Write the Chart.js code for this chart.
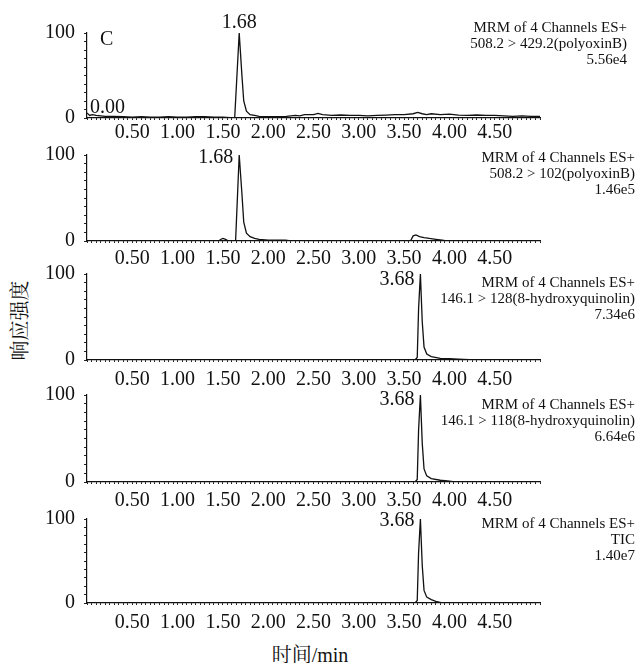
<!DOCTYPE html>
<html>
<head>
<meta charset="utf-8">
<script src="https://cdn.jsdelivr.net/npm/chart.js"></script>
<style>
  body { margin: 0; width: 638px; height: 663px; position: relative; background: #fff; overflow: hidden;
         font-family: 'Liberation Serif', 'Times New Roman', serif; color: #111; }
  canvas { position: absolute; left: 0; }
  .info { position: absolute; text-align: right; font-size: 15px; line-height: 16px; white-space: nowrap; }
  #xTitle { position: absolute; left: 0; width: 620px; top: 639px; text-align: center; font-size: 20px;
            font-family: 'Liberation Serif', 'Noto Serif CJK SC', 'Noto Sans CJK SC', serif; }
  #yTitle { position: absolute; left: -24px; top: 306px; width: 84px; text-align: center; font-size: 20px;
            transform: rotate(-90deg); font-family: 'Noto Serif CJK SC', 'Noto Sans CJK SC', serif; }
</style>
</head>
<body>
<div id="xTitle">时间/min</div>
<div id="yTitle">响应强度</div>

<script>
// ==================== Data ====================
// 508.2 > 429.2 (polyoxinB)
const time1 = [0, 0.03, 0.06, 0.1, 0.15, 0.2, 0.3, 0.4, 0.5, 0.6, 0.7, 0.8, 0.9, 1.0, 1.1, 1.2, 1.3, 1.4, 1.5, 1.58,
               1.63, 1.66, 1.68, 1.71, 1.73, 1.76, 1.8, 1.85, 1.9, 2.0, 2.1, 2.2, 2.3, 2.35, 2.4, 2.5, 2.55, 2.6,
               2.7, 2.8, 2.9, 3.0, 3.1, 3.2, 3.3, 3.4, 3.5, 3.6, 3.65, 3.7, 3.75, 3.8, 3.9, 4.0, 4.1, 4.2, 4.3,
               4.4, 4.5, 4.6, 4.7, 4.8, 4.9, 5.0];
const resp1 = [6, 3, 4, 3, 2.5, 2, 2, 1.5, 1, 1.5, 1, 1, 1.5, 1, 1, 1.5, 1.5, 1, 1, 0.5,
               0, 60, 100, 50, 20, 8, 4, 3, 2, 1.5, 1.5, 2, 3, 2.5, 4, 4, 5.5, 4,
               3, 3.5, 3, 3, 2.5, 3, 3.5, 4, 4, 5, 6.5, 5, 4, 5, 4, 4.5, 3.5, 3, 3.5,
               3, 3, 2.5, 2, 2.5, 2, 2];

// 508.2 > 102 (polyoxinB)
const time2 = [0, 1.45, 1.48, 1.5, 1.53, 1.56, 1.64, 1.68, 1.71, 1.73, 1.76, 1.8, 1.85, 1.9, 2.0, 2.19, 2.25,
               3.57, 3.6, 3.63, 3.67, 3.72, 3.78, 3.85, 3.92, 3.97, 5.0];
const resp2 = [0, 0, 2, 3, 2, 0, 0, 100, 55, 22, 9, 5, 3, 2, 1, 1, 0,
               0, 6, 7, 5, 4, 3, 2, 1, 0, 0];

// 146.1 > 128 (8-hydroxyquinolin)
const time3 = [0, 3.62, 3.645, 3.66, 3.68, 3.7, 3.72, 3.75, 3.8, 3.9, 4.0, 4.1, 4.22, 4.28, 5.0];
const resp3 = [0, 0, 3, 60, 100, 45, 15, 7, 4, 2, 1.5, 1, 0.5, 0, 0];

// 146.1 > 118 (8-hydroxyquinolin)
const time4 = [0, 3.62, 3.645, 3.66, 3.68, 3.7, 3.72, 3.75, 3.8, 3.9, 4.0, 4.06, 5.0];
const resp4 = [0, 0, 3, 60, 100, 45, 15, 7, 4, 2, 1, 0, 0];

// TIC
const time5 = [0, 3.62, 3.645, 3.66, 3.68, 3.7, 3.72, 3.75, 3.8, 3.85, 3.92, 5.0];
const resp5 = [0, 0, 3, 60, 100, 45, 15, 7, 4, 2, 0, 0];

const peakTimes = [1.68, 1.68, 3.68, 3.68, 3.68];
const xTickLabels = ['0.50', '1.00', '1.50', '2.00', '2.50', '3.00', '3.50', '4.00', '4.50'];
const infoLines = [
  ['MRM of 4 Channels ES+', '508.2 > 429.2(polyoxinB)', '5.56e4'],
  ['MRM of 4 Channels ES+', '508.2 > 102(polyoxinB)', '1.46e5'],
  ['MRM of 4 Channels ES+', '146.1 > 128(8-hydroxyquinolin)', '7.34e6'],
  ['MRM of 4 Channels ES+', '146.1 > 118(8-hydroxyquinolin)', '6.64e6'],
  ['MRM of 4 Channels ES+', 'TIC', '1.40e7']
];
const series = [[time1, resp1], [time2, resp2], [time3, resp3], [time4, resp4], [time5, resp5]];

// ==================== Layout ====================
const panelTop = [33, 155, 274, 395, 519];     // y of the 100 line
const panelBase = [118, 241, 360, 482, 603];   // y of the 0 line
const xLabelPad = [1, 4, 6, 5, 6];
const peakLabelDy = [-5, 8, 11, 10, 7];
const infoTop = [19, 149, 274, 396, 515];
const infoRight = [11, 3, 3, 3, 3];
const PAD_TOP = 30, X_AXIS_H = 45, AXIS_LEFT = 87, AXIS_RIGHT = 540;
const FONT = "'Liberation Serif', 'Times New Roman', serif";

// ==================== Panels ====================
function peakLabelPlugin(i) {
  return {
    id: 'peakLabels' + i,
    afterDatasetsDraw(chart) {
      const ctx = chart.ctx;
      const xs = chart.scales.x;
      const top = chart.chartArea.top, bottom = chart.chartArea.bottom;
      const px = xs.getPixelForValue(peakTimes[i]);
      ctx.save();
      ctx.fillStyle = '#111';
      ctx.font = '20px ' + FONT;
      ctx.textBaseline = 'alphabetic';
      if (i === 0) {
        ctx.textAlign = 'center';
        ctx.fillText(peakTimes[i].toFixed(2), px, top + peakLabelDy[i]);
        ctx.textAlign = 'left';
        ctx.fillText((0).toFixed(2), xs.getPixelForValue(0) + 3, bottom - 5);
        ctx.fillText('C', xs.getPixelForValue(0) + 13, top + 12);
      } else {
        ctx.textAlign = 'right';
        ctx.fillText(peakTimes[i].toFixed(2), px - 6, top + peakLabelDy[i]);
      }
      ctx.restore();
    }
  };
}

series.forEach(([times, resp], i) => {
  const h = panelBase[i] - panelTop[i] + PAD_TOP + X_AXIS_H;
  const canvas = document.createElement('canvas');
  canvas.width = 638;
  canvas.height = h;
  canvas.style.top = (panelTop[i] - PAD_TOP) + 'px';
  document.body.appendChild(canvas);

  new Chart(canvas.getContext('2d'), {
    type: 'line',
    data: {
      datasets: [{
        data: times.map((t, k) => ({ x: t, y: resp[k] })),
        borderColor: '#111',
        borderWidth: 1.3,
        pointRadius: 0,
        tension: 0,
        fill: false
      }]
    },
    options: {
      responsive: false,
      animation: false,
      devicePixelRatio: 1,
      layout: { padding: { top: PAD_TOP, right: 638 - AXIS_RIGHT, left: 0, bottom: 0 } },
      plugins: { legend: { display: false }, tooltip: { enabled: false } },
      scales: {
        x: {
          type: 'linear', min: 0, max: 5,
          afterFit(scale) { scale.height = X_AXIS_H; },
          border: { display: true, color: '#111', width: 1.2 },
          grid: { display: true, drawOnChartArea: false, drawTicks: true, tickLength: 2, color: '#222' },
          ticks: {
            stepSize: 0.05, autoSkip: false, maxRotation: 0, minRotation: 0, maxTicksLimit: 200,
            padding: xLabelPad[i], color: '#111', font: { family: FONT, size: 20 },
            callback(v) {
              const lbl = (Math.round(v * 100) / 100).toFixed(2);
              return xTickLabels.includes(lbl) && Math.abs(v * 2 - Math.round(v * 2)) < 1e-6 ? lbl : '';
            }
          }
        },
        y: {
          min: 0, max: 100,
          afterFit(scale) { scale.width = AXIS_LEFT; },
          border: { display: true, color: '#111', width: 1.2 },
          grid: { display: true, drawOnChartArea: false, drawTicks: true, tickLength: 3, color: '#222' },
          ticks: {
            stepSize: 10, autoSkip: false, padding: 9, color: '#111', font: { family: FONT, size: 20 },
            callback(v) { return v === 0 || v === 100 ? String(v) : ''; }
          }
        }
      }
    },
    plugins: [peakLabelPlugin(i)]
  });

  const info = document.createElement('div');
  info.className = 'info';
  info.style.top = infoTop[i] + 'px';
  info.style.right = infoRight[i] + 'px';
  info.innerHTML = infoLines[i].join('<br>');
  document.body.appendChild(info);
});
</script>
</body>
</html>
